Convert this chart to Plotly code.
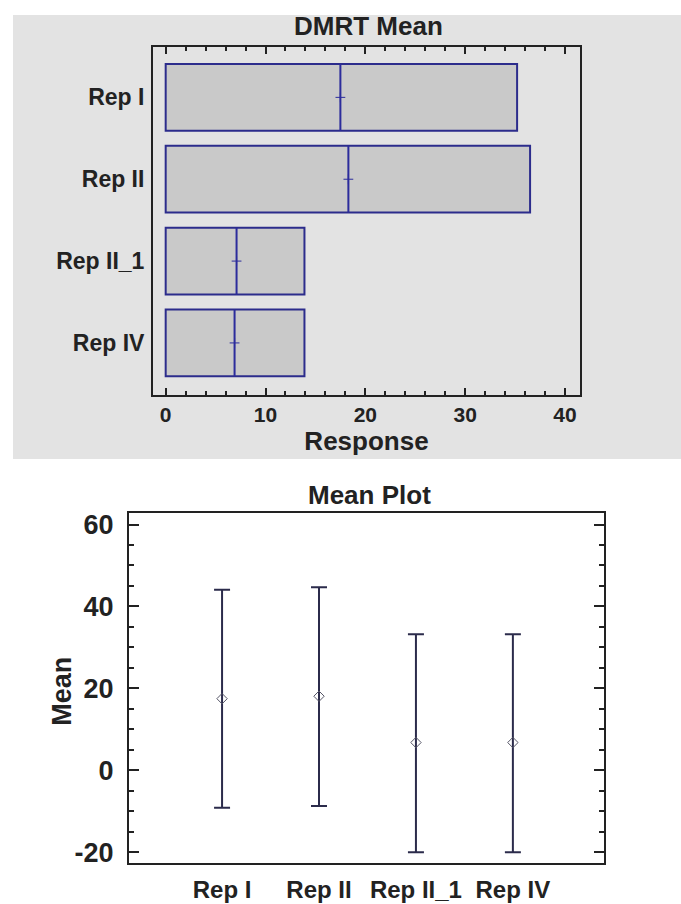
import plotly.graph_objects as go

# ---------------- data ----------------
categories = ["Rep I", "Rep II", "Rep II_1", "Rep IV"]

# DMRT Mean panel (horizontal bars + mean line)
dmrt_bar_ends = [35.2, 36.5, 13.9, 13.9]
dmrt_means = [17.5, 18.3, 7.1, 6.9]

# Mean Plot panel (mean with interval)
plot_means = [17.5, 18.1, 6.8, 6.8]
plot_upper = [44.1, 44.7, 33.2, 33.2]
plot_lower = [-9.1, -8.7, -20.0, -20.0]

x_ticks_top = [0, 10, 20, 30, 40]
y_ticks_bottom = [-20, 0, 20, 40, 60]
y_ticktext_bottom = ["-20", "0", "20", "40", "60"]

FONT = "Liberation Sans, Arial, sans-serif"
W, H = 681, 904
BAR_WIDTH = 0.815

def px(x):
    return x / W

def py(y):
    return 1 - y / H

positions = list(range(len(categories)))

fig = go.Figure()

# top: bars
fig.add_trace(go.Bar(
    x=dmrt_bar_ends, y=positions, orientation="h",
    width=BAR_WIDTH,
    marker=dict(color="#c9c9c9", line=dict(color="#2c2c8c", width=2)),
    xaxis="x", yaxis="y", showlegend=False,
    customdata=categories, hovertemplate="%{customdata}: %{x}<extra></extra>",
))
# top: mean lines (vertical line across each bar) + small cross
fig.add_trace(go.Scatter(
    x=dmrt_means, y=positions, mode="markers",
    marker=dict(symbol="cross-thin", size=7, color="#2c2c9c",
                line=dict(color="#2c2c9c", width=1)),
    error_y=dict(type="constant", value=BAR_WIDTH / 2, color="#2c2c9c",
                 thickness=2, width=0),
    xaxis="x", yaxis="y", showlegend=False,
    customdata=categories, hovertemplate="%{customdata} mean: %{x}<extra></extra>",
))

# bottom: mean plot with intervals
fig.add_trace(go.Scatter(
    x=categories, y=plot_means, mode="markers",
    marker=dict(symbol="diamond-open", size=8, color="#555566", line=dict(width=1)),
    error_y=dict(
        type="data", symmetric=False,
        array=[u - m for u, m in zip(plot_upper, plot_means)],
        arrayminus=[m - l for l, m in zip(plot_lower, plot_means)],
        color="#2b2b4b", thickness=2, width=8,
    ),
    xaxis="x2", yaxis="y2", showlegend=False,
))

frame = dict(showline=True, linecolor="#222222", linewidth=2, mirror=True,
             showgrid=False, zeroline=False)

fig.update_layout(
    width=W, height=H,
    margin=dict(l=0, r=0, t=0, b=0),
    paper_bgcolor="white",
    plot_bgcolor="white",
    font=dict(family=FONT, color="#222222"),
    xaxis=dict(
        domain=[px(153), px(580)], anchor="y",
        range=[-1.27, 41.5], tickvals=x_ticks_top,
        ticks="inside", ticklen=7, tickwidth=1.5, tickcolor="#222222",
        minor=dict(dtick=2, ticks="inside", ticklen=4, tickwidth=1.5, tickcolor="#222222"),
        tickfont=dict(family=FONT, size=21, weight="bold"),
        title=dict(text="Response", font=dict(family=FONT, size=26, weight="bold"), standoff=2),
        **{**frame, "mirror": "ticks"},
    ),
    yaxis=dict(
        domain=[py(395), py(44)], anchor="x",
        range=[3.63, -0.62],
        tickvals=positions, ticktext=categories,
        ticks="", tickfont=dict(family=FONT, size=23, weight="bold"),
        ticklabelstandoff=2,
        **frame,
    ),
    xaxis2=dict(
        domain=[px(129), px(604)], anchor="y2",
        type="category", categoryorder="array", categoryarray=categories,
        range=[-0.96, 3.94],
        ticks="", tickfont=dict(family=FONT, size=24, weight="bold"),
        ticklabelstandoff=4,
        **frame,
    ),
    yaxis2=dict(
        domain=[py(867.7), py(515)], anchor="x2",
        range=[-22.6, 62.7], tickvals=y_ticks_bottom, ticktext=y_ticktext_bottom,
        ticks="inside", ticklen=10, tickwidth=2, tickcolor="#222222",
        minor=dict(dtick=5, ticks="inside", ticklen=5, tickwidth=2, tickcolor="#222222"),
        tickfont=dict(family=FONT, size=27, weight="bold"),
        ticklabelstandoff=8,
        **{**frame, "mirror": "ticks"},
    ),
    shapes=[dict(
        type="rect", xref="paper", yref="paper",
        x0=px(13), x1=1, y0=py(460), y1=py(12),
        fillcolor="#e3e3e3", line=dict(width=0), layer="below",
    )],
    annotations=[
        dict(text="DMRT Mean", xref="paper", yref="paper",
             x=px(368), y=py(23), xanchor="center", yanchor="middle",
             showarrow=False, font=dict(family=FONT, size=26, weight="bold", color="#222222")),
        dict(text="Mean Plot", xref="paper", yref="paper",
             x=px(369), y=py(496), xanchor="center", yanchor="middle",
             showarrow=False, font=dict(family=FONT, size=26, weight="bold", color="#222222")),
        dict(text="Mean", xref="paper", yref="paper", textangle=-90,
             x=px(62), y=py(695), xanchor="center", yanchor="middle",
             showarrow=False, font=dict(family=FONT, size=27, weight="bold", color="#222222")),
    ],
)

fig.write_html("out.html", post_script="document.body.style.margin='0';",
               config={"displayModeBar": False})
